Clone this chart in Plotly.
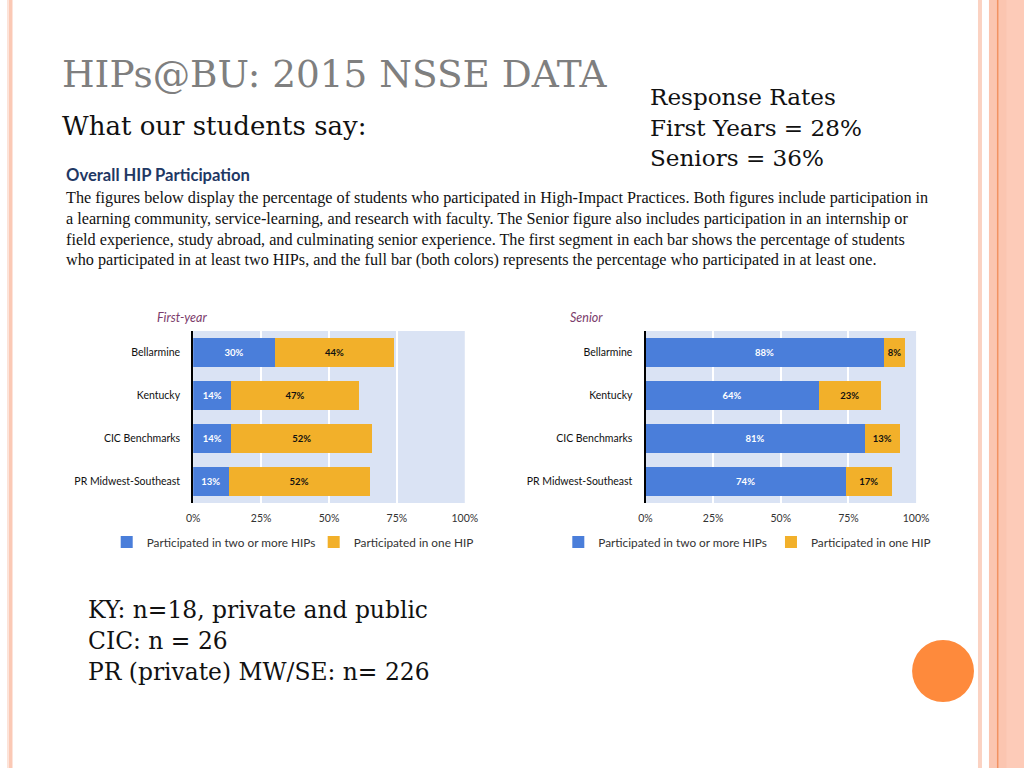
import plotly.graph_objects as go

# ---------------- data ----------------
categories = ["Bellarmine", "Kentucky", "CIC Benchmarks", "PR Midwest-Southeast"]
fy_two_or_more = [30, 14, 14, 13]
fy_one = [44, 47, 52, 52]
sr_two_or_more = [88, 64, 81, 74]
sr_one = [8, 23, 13, 17]
tick_vals = [0, 25, 50, 75, 100]
tick_text = ["0%", "25%", "50%", "75%", "100%"]
series_names = ["Participated in two or more HIPs", "Participated in one HIP"]

paragraph = [
    "The figures below display the percentage of students who participated in High-Impact Practices. Both figures include participation in",
    "a learning community, service-learning, and research with faculty. The Senior figure also includes participation in an internship or",
    "field experience, study abroad, and culminating senior experience. The first segment in each bar shows the percentage of students",
    "who participated in at least two HIPs, and the full bar (both colors) represents the percentage who participated in at least one.",
]
rates = ["Response Rates", "First Years = 28%", "Seniors = 36%"]
notes = ["KY: n=18, private and public", "CIC: n = 26", "PR (private) MW/SE: n= 226"]

BLUE = "#4A7EDA"
ORANGE = "#F2B02A"
W, H = 1024, 768
SX, OX = 0.982, 6.5  # measured horizontal mapping of the page photo


def px(x):
    return ((x - OX) / SX) / W


def py(y):
    return 1 - y / H


fig = go.Figure()

chart_font = "Lato"
bar_w = 0.67
legends = ["legend", "legend2", "legend3", "legend4"]
for i, (two, one, xa, ya) in enumerate([
    (fy_two_or_more, fy_one, "x", "y"),
    (sr_two_or_more, sr_one, "x2", "y2"),
]):
    fig.add_trace(go.Bar(
        y=categories, x=two, orientation="h", name=series_names[0],
        marker=dict(color=BLUE, line=dict(width=0)), width=bar_w,
        text=[f"{v}%" for v in two], textposition="inside", insidetextanchor="middle",
        textangle=0, constraintext="none",
        textfont=dict(family=chart_font, size=9.5, color="white", weight="bold"),
        xaxis=xa, yaxis=ya, legend=legends[2 * i], hoverinfo="skip",
    ))
    fig.add_trace(go.Bar(
        y=categories, x=one, orientation="h", name=series_names[1],
        marker=dict(color=ORANGE, line=dict(width=0)), width=bar_w,
        text=[f"{v}%" for v in one], textposition="inside", insidetextanchor="middle",
        textangle=0, constraintext="none",
        textfont=dict(family=chart_font, size=9.5, color="#111111", weight="bold"),
        xaxis=xa, yaxis=ya, legend=legends[2 * i + 1], hoverinfo="skip",
    ))

xcommon = dict(range=[0, 100], tickvals=tick_vals, ticktext=tick_text, showgrid=True,
               gridcolor="white", gridwidth=2, zeroline=False, showline=False,
               tickfont=dict(family=chart_font, size=10.5, color="#333333"),
               ticklabelstandoff=7, fixedrange=True)
ycommon = dict(categoryorder="array", categoryarray=categories, autorange="reversed",
               showline=True, linecolor="black", linewidth=2, showgrid=False,
               tickfont=dict(family=chart_font, size=10.5, color="#111111"),
               ticklabelstandoff=9, fixedrange=True)

leg_common = dict(orientation="h", yanchor="middle", xanchor="left",
                  font=dict(family=chart_font, size=11.8, color="#333333"),
                  bgcolor="rgba(0,0,0,0)", itemwidth=30)
leg_y = py(542)


def leg_x(text_left):
    return (((text_left - OX) / SX) - 37) / W


fig.update_layout(
    width=W, height=H, autosize=False, showlegend=True,
    margin=dict(l=0, r=0, t=0, b=0),
    paper_bgcolor="white", plot_bgcolor="#DAE3F4",
    barmode="stack",
    xaxis=dict(domain=[px(193), px(465)], anchor="y", **xcommon),
    yaxis=dict(domain=[py(503), py(331)], anchor="x", **ycommon),
    xaxis2=dict(domain=[px(646), px(917)], anchor="y2", **xcommon),
    yaxis2=dict(domain=[py(503), py(331)], anchor="x2", **ycommon),
    legend=dict(x=leg_x(142.7), y=leg_y, **leg_common),
    legend2=dict(x=leg_x(350), y=leg_y, **leg_common),
    legend3=dict(x=leg_x(595), y=leg_y, **leg_common),
    legend4=dict(x=leg_x(808), y=leg_y, **leg_common),
    uniformtext=dict(minsize=9, mode="show"),
)

# ---------------- slide decorations ----------------
shapes = []


def band(x0, x1, color):
    shapes.append(dict(type="rect", xref="paper", yref="paper", x0=max(px(x0), 0), x1=px(x1),
                       y0=0, y1=1, fillcolor=color, line=dict(width=0), layer="below"))


band(6.5, 7.5, "#FDE3D8")
band(8, 12, "#FBC9B5")
band(979, 983, "#FBD2C2")
band(990, 1008, "#FBC5B0")
band(998, 999.5, "#F29262")
band(1008, 1040, "#FDCBB8")
shapes.append(dict(type="circle", xref="paper", yref="paper",
                   x0=px(913), x1=px(975), y0=py(702), y1=py(640),
                   fillcolor="#FE8A3C", line=dict(width=0)))
fig.update_layout(shapes=shapes)

ann = []


def text(x, y, s, size, family, color="#000000", **kw):
    ann.append(dict(x=px(x), y=py(y), xref="paper", yref="paper", text=s, showarrow=False,
                    xanchor="left", yanchor="middle",
                    font=dict(family=family, size=size, color=color, **kw)))


SERIF = "DejaVu Serif"
text(60, 74, "HIPs@BU: 2015 NSSE DATA", 37.4, SERIF, "#7F7F7F")
text(60, 126, "What our students say:", 26, SERIF, "#111111")
for i, s in enumerate(rates):
    text(649, 97 + i * 30.5, s, 23.1, SERIF, "#111111")
text(64, 175, "Overall HIP Participation", 16.6, "Lato", "#1F3864", weight="bold")
for i, s in enumerate(paragraph):
    text(64, 198 + i * 20.8, s, 16.2, "Liberation Serif", "#111111")
text(155, 317, "First-year", 12.5, "Lato", "#7B3B6B", style="italic")
text(568, 317, "Senior", 12.5, "Lato", "#7B3B6B", style="italic")
for i, s in enumerate(notes):
    text(86, 610 + i * 31, s, 23.4, SERIF, "#111111")
fig.update_layout(annotations=ann)

fig.write_html("out.html", config=dict(displayModeBar=False),
               post_script="document.body.style.margin='0';document.body.style.overflow='hidden';")
